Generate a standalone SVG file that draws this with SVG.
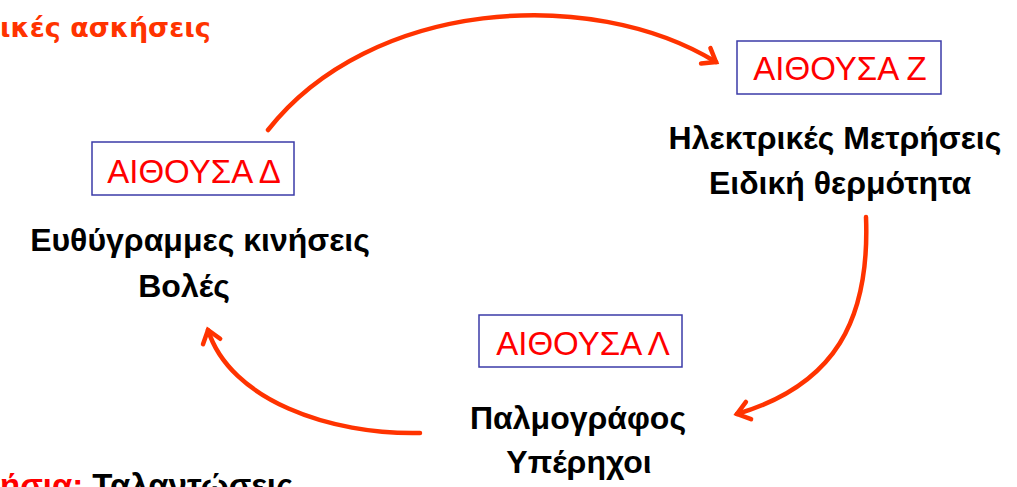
<svg xmlns="http://www.w3.org/2000/svg" width="1017" height="487" viewBox="0 0 1017 487">
<defs>
<style>
.box{fill:#fff;stroke:#3b3ba8;stroke-width:1.5}
.lab{font-family:"Liberation Sans",Arial,sans-serif;font-size:33px;fill:#ff0000;text-anchor:middle}
.txt{font-family:"Liberation Sans",Arial,sans-serif;font-size:32px;font-weight:bold;fill:#000;text-anchor:middle}
.arr{fill:none;stroke:#ff3300;stroke-width:4.5;stroke-linecap:round;marker-end:url(#ah)}
.hdr{font-family:"DejaVu Sans",Verdana,sans-serif;font-size:27px;font-weight:bold;fill:#ff3300}
</style>
<marker id="ah" markerUnits="userSpaceOnUse" markerWidth="30" markerHeight="30" refX="15" refY="10" orient="auto" viewBox="0 0 30 20">
<path d="M3,1 L15,10 L3,19" fill="none" stroke="#ff3300" stroke-width="4.5" stroke-linecap="round" stroke-linejoin="miter"/>
</marker>
</defs>
<rect width="1017" height="487" fill="#fff"/>
<text class="hdr" x="0" y="37">ικές ασκήσεις</text>
<g id="connectors">
<path class="arr" d="M268,130 C370,0 590,-15 716,62"/>
<path class="arr" d="M866,217 C870,320 835,385 737,414"/>
<path class="arr" d="M420,433 C330,435 230,400 208,330"/>
</g>
<g id="node-z">
<rect class="box" x="737" y="41" width="204" height="53"/>
<text class="lab" x="840" y="80">ΑΙΘΟΥΣΑ Ζ</text>
<text class="txt" x="835" y="149">Ηλεκτρικές Μετρήσεις</text>
<text class="txt" x="840" y="194">Ειδική θερμότητα</text>
</g>
<g id="node-d">
<rect class="box" x="92" y="142" width="202" height="53"/>
<text class="lab" x="194" y="183">ΑΙΘΟΥΣΑ Δ</text>
<text class="txt" x="200" y="251">Ευθύγραμμες κινήσεις</text>
<text class="txt" x="184" y="297">Βολές</text>
</g>
<g id="node-l">
<rect class="box" x="479" y="315" width="203" height="52"/>
<text class="lab" x="583" y="355">ΑΙΘΟΥΣΑ Λ</text>
<text class="txt" x="578" y="429">Παλμογράφος</text>
<text class="txt" x="579" y="473">Υπέρηχοι</text>
</g>
<text x="0" y="497" font-family="'Liberation Sans',Arial,sans-serif" font-size="33" font-weight="bold"><tspan fill="#ff0000">ήσια:</tspan><tspan fill="#000"> Ταλαντώσεις</tspan></text>
</svg>
